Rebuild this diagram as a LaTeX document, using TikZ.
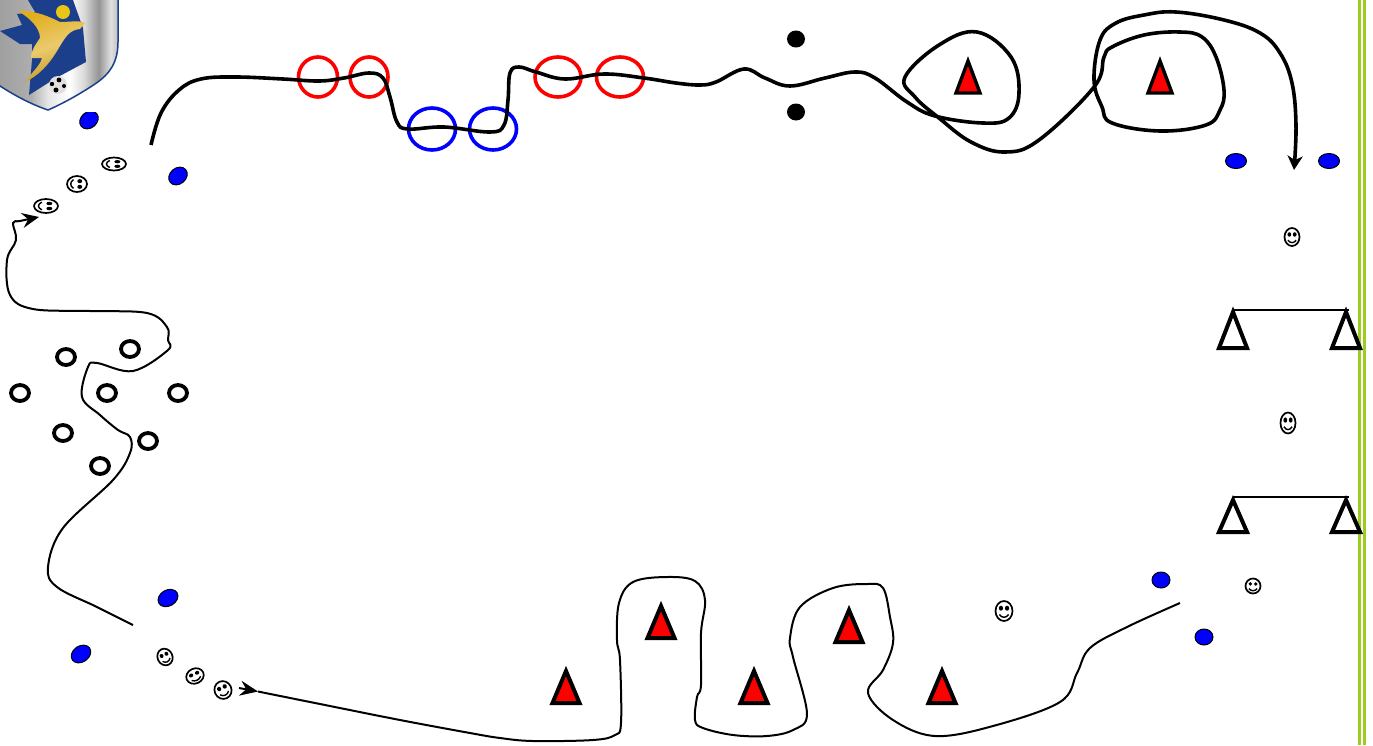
\documentclass[tikz,border=0pt]{standalone}
\usepackage{tikz}
\usetikzlibrary{arrows.meta,shapes.geometric,positioning}
\definecolor{shieldblue}{HTML}{1B3F8B}
\definecolor{figgold}{HTML}{E0AE1E}
\definecolor{railgreen}{HTML}{9ACD1E}
\pgfdeclarehorizontalshading{shieldmetal}{100bp}{
  color(0bp)=(black!38); color(25bp)=(black!38); color(39bp)=(black!32); color(46bp)=(black!10);
  color(55bp)=(white); color(61bp)=(black!15); color(67bp)=(black!42);
  color(72bp)=(black!12); color(75bp)=(black!25); color(100bp)=(black!25)}
\tikzset{
  thickroute/.style={line width=3.6pt,line join=round},
  thinroute/.style={line width=2pt,line join=round},
  disc/.style={shape=ellipse,draw=black,line width=1pt,fill=blue,inner sep=0pt,outer sep=0pt},
  spot/.style={shape=ellipse,fill=black,inner sep=0pt,outer sep=0pt},
  ring/.style={shape=ellipse,draw=black,line width=3.8pt,inner sep=0pt,outer sep=0pt,minimum width=18pt,minimum height=16pt},
  hoop/.style={shape=ellipse,line width=3.6pt,inner sep=0pt,outer sep=0pt,draw},
  cone/.style={shape=isosceles triangle,isosceles triangle stretches,shape border rotate=90,
    anchor=lower side,draw=black,inner sep=0pt,outer sep=0pt,line width=4pt,miter limit=10},
  redcone/.style={cone,fill=red,minimum width=27pt,minimum height=32pt},
  topcone/.style={redcone,line width=3.4pt,minimum width=24pt},
  gatecone/.style={cone,minimum width=28pt,minimum height=32pt},
  smiley/.pic={
    \draw[line width=1.7pt] (0,0) circle [radius=1];
    \fill (-.36,-.28) circle [radius=.25];
    \fill (.36,-.28) circle [radius=.25];
    \draw[line width=1.4pt] (-.55,.35) .. controls (-.25,.72) and (.25,.72) .. (.55,.35);
  }
}
\begin{document}
\begin{tikzpicture}[x=1pt,y=-1pt]
  \useasboundingbox (0,0) rectangle (1373,745);

  % border
  \fill[railgreen] (1358,0) rectangle (1361,745);
  \fill[railgreen] (1363,0) rectangle (1366,745);

  % markers
  \node[disc,minimum width=20pt,minimum height=16pt,rotate=40] (discA) at (89,120) {};
  \node[disc,minimum width=20pt,minimum height=16pt,rotate=40] (discB) at (178,176) {};
  \node[disc,minimum width=21pt,minimum height=15pt] (discC) at (1236,161) {};
  \node[disc,minimum width=21pt,minimum height=15pt] (discD) at (1329,161) {};
  \node[disc,minimum width=21pt,minimum height=16pt,rotate=30] (discE) at (168,598) {};
  \node[disc,minimum width=21pt,minimum height=16pt,rotate=35] (discF) at (81,654) {};
  \node[disc,minimum width=18pt,minimum height=16pt] (discG) at (1161,580) {};
  \node[disc,minimum width=18pt,minimum height=16pt] (discH) at (1204,637) {};
  \node[spot,minimum width=18pt,minimum height=17pt] (spotA) at (796,39) {};
  \node[spot,minimum width=18pt,minimum height=17pt] (spotB) at (796,112) {};

  % hoops
  \node[hoop,draw=red,minimum width=39pt,minimum height=40pt] (redA) at (318,77) {};
  \node[hoop,draw=red,minimum width=38pt,minimum height=40pt] (redB) at (369,77) {};
  \node[hoop,draw=blue,minimum width=47pt,minimum height=42pt] (blueA) at (432,129) {};
  \node[hoop,draw=blue,minimum width=47pt,minimum height=42pt] (blueB) at (493,129) {};
  \node[hoop,draw=red,minimum width=46pt,minimum height=40pt] (redC) at (558,77) {};
  \node[hoop,draw=red,minimum width=47pt,minimum height=40pt] (redD) at (620,77) {};

  % rings
  \node[ring] (ringA) at (66,357) {};
  \node[ring] (ringB) at (130,349) {};
  \node[ring] (ringC) at (20,393) {};
  \node[ring] (ringD) at (107,393) {};
  \node[ring] (ringE) at (178,393) {};
  \node[ring] (ringF) at (63,433) {};
  \node[ring] (ringG) at (148,441) {};
  \node[ring] (ringH) at (100,466) {};

  % cones
  \node[topcone] (coneA) at (968,93) {};
  \node[topcone] (coneB) at (1160,93) {};
  \node[redcone] (coneC) at (566,703) {};
  \node[redcone] (coneD) at (661,638) {};
  \node[redcone] (coneE) at (754,703) {};
  \node[redcone] (coneF) at (849,642) {};
  \node[redcone] (coneG) at (942,703) {};
  \node[gatecone,minimum height=36pt] (gateA) at (1233,348) {};
  \node[gatecone,minimum height=36pt] (gateB) at (1346,348) {};
  \node[gatecone] (gateC) at (1233,532) {};
  \node[gatecone] (gateD) at (1346,532) {};
  \draw[line width=1.8pt] ([yshift=2pt]gateA.apex) -- ([xshift=3pt,yshift=2pt]gateB.apex);
  \draw[line width=1.8pt] ([yshift=3pt]gateC.apex) -- ([xshift=3pt,yshift=3pt]gateD.apex);

  % players
  \pic[rotate=-90,xscale=7,yscale=12] (playerA) at (46,206) {smiley};
  \pic[rotate=-90,xscale=8,yscale=10] (playerB) at (77,184) {smiley};
  \pic[rotate=-90,xscale=6.5,yscale=12] (playerC) at (114,164) {smiley};
  \pic[rotate=25,xscale=7.5,yscale=8.5] (playerD) at (165,657) {smiley};
  \pic[rotate=25,xscale=9,yscale=7.5] (playerE) at (195,676) {smiley};
  \pic[rotate=25,xscale=8.5,yscale=9] (playerF) at (223,690) {smiley};
  \pic[xscale=7.5,yscale=9] (playerG) at (1292,237) {smiley};
  \pic[xscale=7.5,yscale=10.5] (playerH) at (1288,423) {smiley};
  \pic[xscale=7.5,yscale=7.5] (playerI) at (1253,586) {smiley};
  \pic[xscale=8.5,yscale=10] (playerJ) at (1004,611) {smiley};

  % routes
  \coordinate (topStart) at (151,145);
  \coordinate (topEnd) at (1294,170);
  \coordinate (leftStart) at (133,625);
  \coordinate (leftEnd) at (39,217);
  \coordinate (lowStart) at (239,688);
  \coordinate (lowTip) at (258,691.5);
  \coordinate (lowEnd) at (1180,603);
  \draw[thickroute,-{Stealth[length=14pt,width=15pt,inset=4pt]}] plot[smooth,tension=.65] coordinates {
    (topStart) (161,113) (179,90) (201,79) (236,77) (283,79) (319,81) (344,78) (369,73) (383,78)
    (390,97) (397,122) (408,129) (444,127) (490,132) (504,125) (508,100) (510,73) (519,67) (536,72)
    (565,79) (604,74) (644,78) (676,83) (700,85) (716,82) (744,69) (765,78) (790,86) (825,78) (855,72) (875,78)
    (907,102) (935,116) (983,123) (1009,118) (1019,93) (1011,57) (977,32) (939,45) (905,77) (915,97)
    (939,118) (971,142) (1005,152) (1039,140) (1094,87) (1104,57) (1112,47) (1144,35) (1180,32) (1202,37)
    (1216,57) (1224,90) (1220,110) (1206,125) (1160,131) (1112,123) (1102,107) (1094,80) (1100,40)
    (1116,23) (1144,15) (1176,12) (1224,20) (1260,33) (1280,53) (1292,83) (1296,125) (topEnd)};
  \draw[thinroute,-{Stealth[length=17pt,width=15pt,inset=6pt]}] plot[smooth,tension=.6] coordinates {
    (leftStart) (97,607) (57,587) (48,567) (63,528) (113,480) (130,453) (130,437) (118,430) (100,415)
    (82,397) (88,367) (97,363) (133,371) (168,350) (168,340) (167,327) (147,313) (90,311) (33,309) (10,295) (7,260)
    (16,240) (13,223) (20,221) (leftEnd)};
  \draw[thinroute,-{Stealth[length=18pt,width=15pt,inset=6pt]}] (lowStart) -- (lowTip);
  \draw[thinroute] plot[smooth,tension=.6] coordinates {
    (lowTip) (320,704) (400,720) (470,733) (500,738) (533,741) (593,740) (615,735) (621,723) (620,660) (617,640) (619,603)
    (633,582) (667,577) (695,581) (705,600) (701,633) (701,685) (697,697) (695,720) (703,728) (733,735)
    (767,736) (793,730) (807,714) (793,657) (790,638) (800,607) (833,588) (867,584) (883,588) (890,617)
    (893,643) (883,670) (868,693) (893,720) (935,736) (993,726) (1060,702) (1077,673) (1090,648)
    (1127,627) (lowEnd)};

  % badge
  \fill[white] (0,0) rectangle (122,112);
  \begin{scope}
    \clip (0,0) rectangle (122,112);
    \draw[shieldblue,line width=1.5pt,shading=shieldmetal,shading angle=0]
      (-3,-3) -- (118,-3) -- (118,42) .. controls (118,62) and (110,74) .. (95,84)
      .. controls (80,94) and (62,104) .. (48,110) .. controls (30,104) and (12,94) .. (-3,84) -- cycle;
    \fill[shieldblue] (28,0) -- (35,12) -- (17,14) -- (22,25) -- (0,31) -- (20,44) -- (32,44)
      -- (32,60) -- (29,95) -- (56,78) -- (86,62) -- (83,28) -- (73,0) -- cycle;
    \shade[left color=figgold,right color=figgold!85!black,middle color=figgold!65!white,shading angle=20]
      (18,11) .. controls (35,10) and (50,17) .. (60,22) .. controls (70,22) and (80,20) .. (85,23)
      -- (80,29) .. controls (70,30) and (66,36) .. (60,46) .. controls (52,60) and (42,74) .. (25,82)
      .. controls (32,72) and (40,66) .. (42,58) -- (31,58) .. controls (31,50) and (36,44) .. (40,38)
      .. controls (40,28) and (30,18) .. cycle;
    \fill[figgold!70!yellow] (63,12) circle [radius=7];
    \fill[black!12] (58,85) circle [radius=9];
    \fill (52,84) circle [radius=2.2];
    \fill (59,80) circle [radius=2.4];
    \fill (64,86) circle [radius=2];
    \fill (56,90) circle [radius=2.5];
  \end{scope}
\end{tikzpicture}
\end{document}
